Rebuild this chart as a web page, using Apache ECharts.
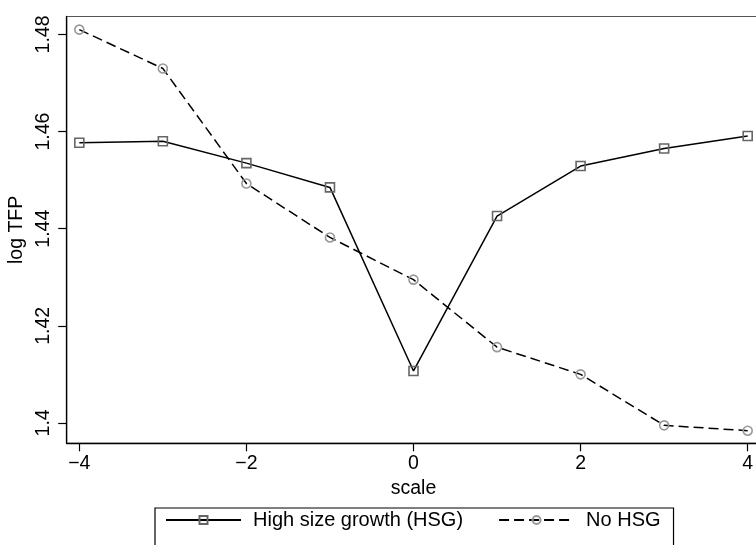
<!DOCTYPE html>
<html>
<head>
<meta charset="utf-8">
<script src="https://cdn.jsdelivr.net/npm/echarts@6/dist/echarts.min.js"></script>
<style>
html,body{margin:0;padding:0;background:#fff;}
#c{width:756px;height:545px;}
</style>
</head>
<body>
<div id="c"></div>
<script>
var scale = [-4, -3, -2, -1, 0, 1, 2, 3, 4];
var hsg = [1.4577, 1.4580, 1.4535, 1.4485, 1.4107, 1.4426, 1.4529, 1.4565, 1.4591];
var noHsg = [1.4810, 1.4730, 1.4493, 1.4382, 1.4295, 1.4156, 1.4100, 1.3995, 1.3984];
var xTicks = [-4, -2, 0, 2, 4];
var yTicks = [1.4, 1.42, 1.44, 1.46, 1.48];
var seriesNames = ['High size growth (HSG)', 'No HSG'];

function pairs(xs, ys) { return xs.map(function (x, i) { return [x, ys[i]]; }); }

var FONT = '"Liberation Sans", Arial, Helvetica, sans-serif';
var chart = echarts.init(document.getElementById('c'), null, { renderer: 'canvas' });
chart.setOption({
  animation: false,
  backgroundColor: '#fff',
  textStyle: { fontFamily: FONT },
  grid: {
    left: 66.7, top: 16.5, width: 693.6, height: 426.8,
    outerBoundsMode: 'none', containLabel: false,
    show: true, borderColor: '#555', borderWidth: 1.2, backgroundColor: 'transparent'
  },
  xAxis: {
    type: 'value', min: -4.151, max: 4.151,
    name: 'scale', nameLocation: 'middle', nameGap: 35, nameMoveOverlap: false,
    nameTextStyle: { fontSize: 19.5, color: '#000', fontFamily: FONT },
    axisLine: { show: true, onZero: false, lineStyle: { color: '#000', width: 1.3 } },
    axisTick: { show: true, length: 8, customValues: xTicks, lineStyle: { color: '#000', width: 1.2 } },
    axisLabel: {
      customValues: xTicks, margin: 10, fontSize: 19.5, color: '#000', fontFamily: FONT,
      formatter: function (v) { return String(v).replace('-', '\u2212'); }
    },
    splitLine: { show: false }
  },
  yAxis: {
    type: 'value', min: 1.3958, max: 1.4837,
    name: 'log TFP', nameLocation: 'middle', nameGap: 40, nameMoveOverlap: false,
    nameTextStyle: { fontSize: 19.5, color: '#000', fontFamily: FONT },
    axisLine: { show: true, onZero: false, lineStyle: { color: '#000', width: 1.3 } },
    axisTick: { show: true, length: 8.5, customValues: yTicks, lineStyle: { color: '#000', width: 1.2 } },
    axisLabel: {
      customValues: yTicks, rotate: 90, margin: 13, fontSize: 19.5, color: '#000', fontFamily: FONT,
      formatter: function (v) { return String(+v.toFixed(2)); }
    },
    splitLine: { show: false }
  },
  legend: {
    left: 155, top: 508, width: 516,
    padding: [1, 13, 40, 10],
    borderColor: '#000', borderWidth: 1.2,
    itemWidth: 75, itemHeight: 10, itemGap: 35,
    textStyle: { fontSize: 20, color: '#000', fontFamily: FONT, padding: [0, 0, 0, 7], lineHeight: 22 },
    data: seriesNames
  },
  series: [
    {
      name: seriesNames[0], type: 'line', data: pairs(scale, hsg),
      symbol: 'rect', symbolSize: 9,
      lineStyle: { color: '#000', width: 1.5, type: 'solid' },
      itemStyle: { color: 'rgba(255,255,255,0)', borderColor: '#666', borderWidth: 1.6 }
    },
    {
      name: seriesNames[1], type: 'line', data: pairs(scale, noHsg),
      symbol: 'circle', symbolSize: 9,
      lineStyle: { color: '#000', width: 1.5, type: [10, 5] },
      itemStyle: { color: 'rgba(255,255,255,0)', borderColor: '#999', borderWidth: 1.6 }
    }
  ]
});
</script>
</body>
</html>
